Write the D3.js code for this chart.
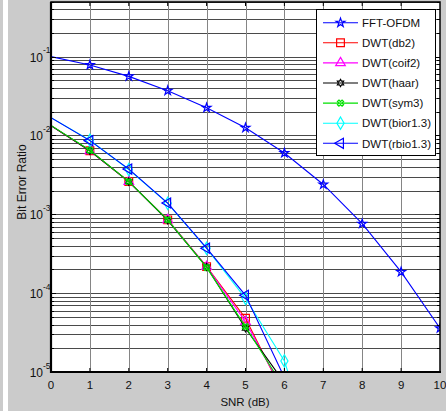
<!DOCTYPE html>
<html>
<head>
<meta charset="utf-8">
<script src="https://cdn.jsdelivr.net/npm/d3@7"></script>
<style>
  body { margin: 0; background: #cbcbcb; }
  svg { display: block; font-family: "Liberation Sans", Arial, sans-serif; }
</style>
</head>
<body>
<div id="chart"></div>
<script>
// BER vs SNR, FFT-OFDM against DWT-OFDM with several wavelets
var snr = [0, 1, 2, 3, 4, 5, 6, 7, 8, 9, 10];
var fftOfdm = [0.1, 0.0785, 0.0562, 0.037, 0.0225, 0.0125, 0.0060, 0.00239, 7.6e-4, 1.86e-4, 3.59e-5];
var dwtDb2 = [0.0133, 0.0064, 0.0026, 8.5e-4, 2.17e-4, 4.8e-5, 5.0e-6];
var dwtCoif2 = [0.0133, 0.0064, 0.0026, 8.5e-4, 2.17e-4, 4.35e-5, 5.4e-6];
var dwtHaar = [0.0133, 0.0064, 0.0026, 8.4e-4, 2.15e-4, 3.59e-5, 7.3e-6];
var dwtSym3 = [0.0134, 0.0065, 0.0026, 8.5e-4, 2.12e-4, 3.76e-5, 6.2e-6];
var dwtBior13 = [0.0168, 0.0087, 0.0037, 0.00138, 3.7e-4, 8.6e-5, 1.38e-5, 4e-7];
var dwtRbio13 = [0.0168, 0.0086, 0.00375, 0.00139, 3.72e-4, 9.4e-5, 8.5e-6];

var seriesNames = ["FFT-OFDM", "DWT(db2)", "DWT(coif2)", "DWT(haar)", "DWT(sym3)", "DWT(bior1.3)", "DWT(rbio1.3)"];
var seriesValues = [fftOfdm, dwtDb2, dwtCoif2, dwtHaar, dwtSym3, dwtBior13, dwtRbio13];
var xTicks = [0, 1, 2, 3, 4, 5, 6, 7, 8, 9, 10];
var yDecades = [-5, -4, -3, -2, -1];

var W = 446, H = 411;
var pLeft = 51, pRight = 440, pTop = 2, pBottom = 372;

// hexagram marker (matlab 'h')
var symbolHexagram = {
  draw: function(ctx, size) {
    var r = Math.sqrt(size) * 0.62, ri = r * 0.58;
    for (var i = 0; i < 12; i++) {
      var a = -Math.PI / 2 + i * Math.PI / 6, rr = i % 2 ? ri : r;
      if (i == 0) ctx.moveTo(rr * Math.cos(a), rr * Math.sin(a));
      else ctx.lineTo(rr * Math.cos(a), rr * Math.sin(a));
    }
    ctx.closePath();
  }
};

var styles = [
  {color: "#0000ff", sym: d3.symbolStar, size: 24, rot: 0},
  {color: "#ff0000", sym: d3.symbolSquare, size: 60, rot: 0},
  {color: "#ff00ff", sym: d3.symbolTriangle, size: 40, rot: 0},
  {color: "#000000", sym: symbolHexagram, size: 34, rot: 0},
  {color: "#00e000", sym: d3.symbolCross, size: 24, rot: 45},
  {color: "#00ffff", sym: d3.symbolDiamond, size: 44, rot: 0},
  {color: "#0000ff", sym: d3.symbolTriangle, size: 44, rot: -90}
];

var svg = d3.select("#chart").append("svg")
  .attr("width", W).attr("height", H);

svg.append("rect").attr("width", W).attr("height", H).attr("fill", "#cbcbcb");
// strip from the neighbouring figure on the left
svg.append("rect").attr("x", 3).attr("y", 0).attr("width", 5).attr("height", H).attr("fill", "#ffffff");

var x = d3.scaleLinear().domain([0, 10]).range([pLeft, pRight]);
var y = d3.scaleLog().domain([1e-5, 1]).range([pBottom, -22.2]);

svg.append("defs").append("clipPath").attr("id", "plotclip")
  .append("rect").attr("x", pLeft).attr("y", pTop).attr("width", pRight - pLeft).attr("height", pBottom - pTop);

svg.append("rect")
  .attr("x", pLeft).attr("y", pTop).attr("width", pRight - pLeft).attr("height", pBottom - pTop)
  .attr("fill", "#ffffff");

var plot = svg.append("g").attr("clip-path", "url(#plotclip)");

// grid
var minorVals = [];
for (var e = -5; e < 0; e++) for (var m = 1; m < 10; m++) minorVals.push(m * Math.pow(10, e));

plot.selectAll(".hgrid").data(minorVals).enter().append("line")
  .attr("x1", pLeft).attr("x2", pRight)
  .attr("y1", function(d) { return Math.round(y(d)) + 0.5; })
  .attr("y2", function(d) { return Math.round(y(d)) + 0.5; })
  .attr("stroke", "#4a4a4a").attr("stroke-width", 1);

plot.selectAll(".vgrid").data(xTicks.slice(1, -1)).enter().append("line")
  .attr("y1", pTop).attr("y2", pBottom)
  .attr("x1", function(d) { return Math.round(x(d)) + 0.5; })
  .attr("x2", function(d) { return Math.round(x(d)) + 0.5; })
  .attr("stroke", "#858585").attr("stroke-width", 1);

// curves
var line = d3.line()
  .x(function(d) { return x(d[0]); })
  .y(function(d) { return y(d[1]); });

seriesValues.forEach(function(vals, i) {
  var st = styles[i];
  var pts = vals.map(function(v, j) { return [snr[j], v]; });
  plot.append("path")
    .attr("d", line(pts))
    .attr("fill", "none")
    .attr("stroke", st.color)
    .attr("stroke-width", 1.1);
  var shown = pts.filter(function(p) { return p[0] >= 1 && p[1] >= 1e-5; });
  plot.selectAll(".m" + i).data(shown).enter().append("path")
    .attr("transform", function(d) { return "translate(" + x(d[0]) + "," + y(d[1]) + ") rotate(" + st.rot + ")"; })
    .attr("d", d3.symbol().type(st.sym).size(st.size))
    .attr("fill", "none")
    .attr("stroke", st.color)
    .attr("stroke-width", 1.2);
});

// axes frame and ticks
var axes = svg.append("g");
axes.append("rect")
  .attr("x", pLeft).attr("y", pTop).attr("width", pRight - pLeft).attr("height", pBottom - pTop)
  .attr("fill", "none").attr("stroke", "#000").attr("stroke-width", 1.5);
axes.append("line").attr("x1", pLeft).attr("x2", pLeft).attr("y1", pTop).attr("y2", pBottom + 1)
  .attr("stroke", "#000").attr("stroke-width", 2.2);
axes.append("line").attr("x1", pLeft - 1).attr("x2", pRight + 1).attr("y1", pBottom).attr("y2", pBottom)
  .attr("stroke", "#000").attr("stroke-width", 2.2);

xTicks.slice(1, -1).forEach(function(t) {
  axes.append("line").attr("x1", x(t)).attr("x2", x(t)).attr("y1", pBottom).attr("y2", pBottom - 4).attr("stroke", "#000");
  axes.append("line").attr("x1", x(t)).attr("x2", x(t)).attr("y1", pTop).attr("y2", pTop + 4).attr("stroke", "#000");
});
minorVals.forEach(function(v) {
  var len = (Math.abs(Math.log10(v) % 1) < 1e-9) ? 5 : 3;
  var yy = Math.round(y(v)) + 0.5;
  axes.append("line").attr("x1", pLeft).attr("x2", pLeft + len).attr("y1", yy).attr("y2", yy).attr("stroke", "#000");
  axes.append("line").attr("x1", pRight).attr("x2", pRight - len).attr("y1", yy).attr("y2", yy).attr("stroke", "#000");
});

// tick labels
svg.selectAll(".xlab").data(xTicks).enter().append("text")
  .attr("x", function(d) { return x(d); })
  .attr("y", 389)
  .attr("text-anchor", "middle")
  .attr("font-size", "11.5px")
  .attr("fill", "#111")
  .text(function(d) { return d; });

var ylab = svg.selectAll(".ylab").data(yDecades).enter().append("g");
ylab.append("text")
  .attr("x", 43).attr("y", function(d) { return y(Math.pow(10, d)) + 5; })
  .attr("text-anchor", "end").attr("font-size", "12px").attr("fill", "#111")
  .text("10");
ylab.append("text")
  .attr("x", 43).attr("y", function(d) { return y(Math.pow(10, d)) - 3.5; })
  .attr("font-size", "8.5px").attr("fill", "#111")
  .text(function(d) { return d; });

svg.append("text")
  .attr("x", 245).attr("y", 406)
  .attr("text-anchor", "middle").attr("font-size", "11.5px").attr("fill", "#111")
  .text("SNR (dB)");

svg.append("text")
  .attr("transform", "translate(26,182) rotate(-90)")
  .attr("text-anchor", "middle").attr("font-size", "12px").attr("fill", "#111")
  .text("Bit Error Ratio");

// legend
var legend = svg.append("g");
legend.append("rect")
  .attr("x", 316.5).attr("y", 9.5).attr("width", 119).attr("height", 146)
  .attr("fill", "#fff").attr("stroke", "#000").attr("stroke-width", 1);

var legItems = legend.selectAll(".leg").data(seriesNames).enter().append("g")
  .attr("transform", function(d, i) { return "translate(0," + (22.7 + i * 20.1) + ")"; });
legItems.append("line")
  .attr("x1", 323).attr("x2", 358).attr("y1", 0).attr("y2", 0)
  .attr("stroke", function(d, i) { return styles[i].color; }).attr("stroke-width", 1.1);
legItems.append("path")
  .attr("transform", function(d, i) { return "translate(340.5,0) rotate(" + styles[i].rot + ")"; })
  .attr("d", function(d, i) { return d3.symbol().type(styles[i].sym).size(styles[i].size)(); })
  .attr("fill", "none")
  .attr("stroke", function(d, i) { return styles[i].color; })
  .attr("stroke-width", 1.2);
legItems.append("text")
  .attr("x", 362).attr("y", 4.2)
  .attr("font-size", "11.5px").attr("fill", "#111")
  .text(function(d) { return d; });
</script>
</body>
</html>
